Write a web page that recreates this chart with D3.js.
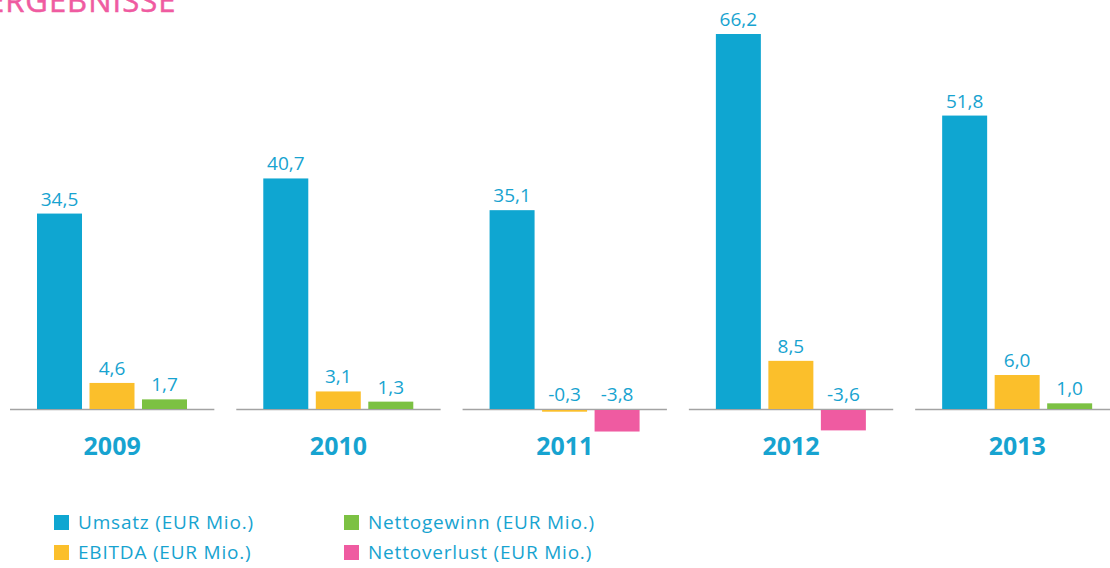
<!doctype html>
<html>
<head>
<meta charset="utf-8">
<script src="https://d3js.org/d3.v7.min.js"></script>
<style>
  body { margin: 0; background: #fff; }
  svg { display: block; }
  text { font-family: "Open Sans", "DejaVu Sans", sans-serif; }
</style>
</head>
<body>
<svg width="1110" height="568"></svg>
<script>

// chart values
var years = ["2009", "2010", "2011", "2012", "2013"];
var umsatz = [34.5, 40.7, 35.1, 66.2, 51.8];
var ebitda = [4.6, 3.1, -0.3, 8.5, 6.0];
var nettogewinn = [1.7, 1.3, null, null, 1.0];
var nettoverlust = [null, null, -3.8, -3.6, null];
var seriesNames = ["Umsatz (EUR Mio.)", "EBITDA (EUR Mio.)", "Nettogewinn (EUR Mio.)", "Nettoverlust (EUR Mio.)"];
var colors = ["#0fa6d1", "#fbbf2b", "#7cc143", "#ef5ba1"];
var textBlue = "#17a3d0";

var svg = d3.select("svg");

// title, sits half above the page edge like in the slide
svg.append("text")
    .attr("x", -13)
    .attr("y", 12)
    .attr("fill", "#ef5ba1")
    .style("font-size", "31px")
    .style("letter-spacing", "1px")
    .style("stroke", "#ef5ba1")
    .style("stroke-width", "0.5px")
    .text("ERGEBNISSE");

var x = d3.scaleBand()
    .domain(years)
    .range([10, 1119.5])
    .paddingInner(0.097);

// three slots per year; net profit and net loss share the third one
var slot = d3.scaleBand()
    .domain([0, 1, 2])
    .range([27, 177])
    .paddingInner(0.143);

var y = d3.scaleLinear()
    .domain([0, 66.2])
    .range([409, 34]);

var bars = [];
years.forEach(function(yr, i) {
  bars.push({year: yr, slot: 0, value: umsatz[i], color: colors[0]});
  bars.push({year: yr, slot: 1, value: ebitda[i], color: colors[1]});
  if (nettogewinn[i] != null) bars.push({year: yr, slot: 2, value: nettogewinn[i], color: colors[2]});
  if (nettoverlust[i] != null) bars.push({year: yr, slot: 2, value: nettoverlust[i], color: colors[3]});
});

// baseline segments per year
svg.append("g").selectAll("line")
    .data(years)
  .enter().append("line")
    .attr("x1", function(d) { return x(d); })
    .attr("x2", function(d) { return x(d) + x.bandwidth(); })
    .attr("y1", y(0) + 0.5)
    .attr("y2", y(0) + 0.5)
    .attr("stroke", "#a3a3a3")
    .attr("stroke-width", 1.5);

svg.append("g").selectAll("rect")
    .data(bars)
  .enter().append("rect")
    .attr("x", function(d) { return x(d.year) + slot(d.slot); })
    .attr("width", slot.bandwidth())
    .attr("y", function(d) { return d.value >= 0 ? y(d.value) : y(0) + 1; })
    .attr("height", function(d) { return Math.abs(y(d.value) - y(0)); })
    .attr("fill", function(d) { return d.color; });

svg.append("g").selectAll("text")
    .data(bars)
  .enter().append("text")
    .attr("x", function(d) { return x(d.year) + slot(d.slot) + slot.bandwidth() / 2; })
    .attr("y", function(d) { return Math.min(y(d.value), y(0)) - 8; })
    .attr("text-anchor", "middle")
    .attr("fill", textBlue)
    .style("font-size", "19px")
    .text(function(d) { return d.value.toFixed(1).replace(".", ","); });

// year labels
svg.append("g").selectAll("text")
    .data(years)
  .enter().append("text")
    .attr("x", function(d) { return x(d) + x.bandwidth() / 2; })
    .attr("y", 455)
    .attr("text-anchor", "middle")
    .attr("fill", textBlue)
    .style("font-size", "25px")
    .style("font-weight", "bold")
    .text(function(d) { return d; });

// legend, two columns
var legend = svg.append("g").selectAll("g")
    .data(seriesNames)
  .enter().append("g")
    .attr("transform", function(d, i) {
      return "translate(" + (i < 2 ? 54 : 344) + "," + (i % 2 ? 545 : 515) + ")";
    });

legend.append("rect")
    .attr("width", 15)
    .attr("height", 15)
    .attr("fill", function(d, i) { return colors[i]; });

legend.append("text")
    .attr("x", 24)
    .attr("y", 14)
    .attr("fill", textBlue)
    .style("font-size", "19px")
    .style("letter-spacing", "0.8px")
    .text(function(d) { return d; });

</script>
</body>
</html>
